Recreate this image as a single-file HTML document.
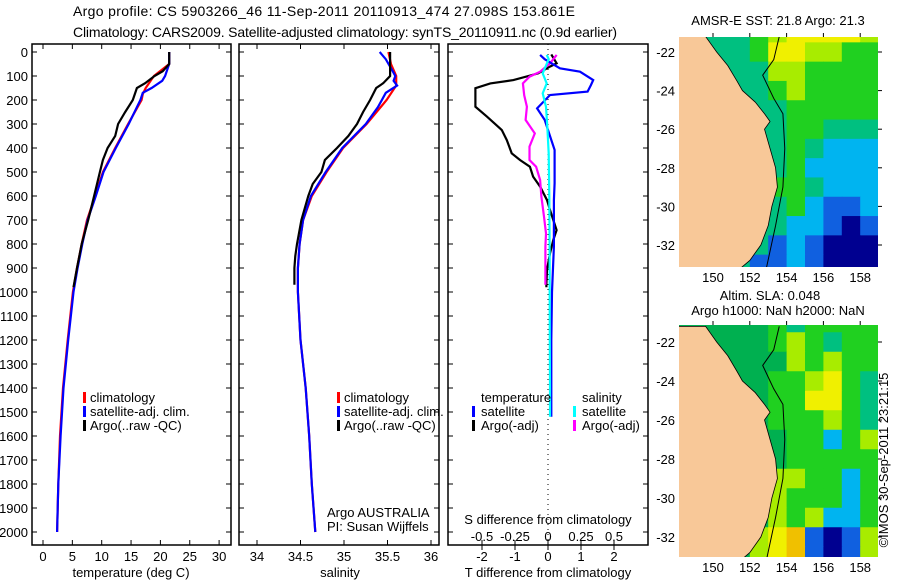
<!DOCTYPE html>
<html><head><meta charset="utf-8"><style>
body{margin:0;background:#fff;}
svg{display:block;font-family:"Liberation Sans",sans-serif;}
</style></head><body>
<svg id="s" width="900" height="580" viewBox="0 0 900 580">
<text x="73" y="16" font-size="14" textLength="502">Argo profile: CS 5903266_46 11-Sep-2011 20110913_474 27.098S 153.861E</text>
<text x="73" y="37" font-size="14" textLength="544">Climatology: CARS2009. Satellite-adjusted climatology: synTS_20110911.nc (0.9d earlier)</text>
<text x="888" y="460" font-size="13" text-anchor="middle" transform="rotate(-90 888 460)">©IMOS 30-Sep-2011 23:21:15</text>
<g id="g"></g>
</svg>
<script>
// ---- Data ----
const depths=[0,50,100,150,175,200,300,400,500,600,700,800,900,1000,1200,1400,1600,1800,2000];
const tempClim=[21.5,21.5,18.9,17.5,17,16.8,14.5,12.3,10.2,8.9,7.5,6.6,5.8,5.1,4.2,3.4,2.9,2.6,2.4];
const tempSatDepths=[0,50,100,120,150,170,200,300,400,500,600,700,800,900,1000,1200,1400,1600,1800,2000];
const tempSat=[21.5,21.5,20.8,20.3,18.5,17,16.6,14.6,12.4,10.3,9,7.6,6.7,5.9,5.2,4.3,3.5,3.0,2.6,2.4];
const argoDepths=[0,50,80,100,130,150,200,250,300,350,400,450,500,550,600,700,800,900,980];
const tempArgo=[21.5,21.5,20.4,19,17.4,16,15.3,14,12.8,12.3,11,10.2,9.7,9.2,8.7,7.7,6.6,5.8,5.2];
const salDepths=[0,50,100,140,200,300,400,500,600,700,800,900,1000,1200,1400,1600,1800,2000];
const salClim=[35.51,35.54,35.6,35.6,35.49,35.26,34.99,34.8,34.63,34.53,34.49,34.47,34.47,34.5,34.56,34.6,34.63,34.67];
const salSatDepths=[0,30,80,100,120,140,170,230,300,400,500,600,700,800,900,1000,1200,1400,1600,1800,2000];
const salSat=[35.41,35.48,35.56,35.59,35.57,35.61,35.48,35.39,35.25,34.98,34.79,34.62,34.53,34.49,34.47,34.47,34.5,34.56,34.6,34.63,34.67];
const salArgoDepths=[0,50,100,130,150,200,250,300,350,400,450,500,550,600,700,800,850,900,970];
const salArgo=[35.53,35.53,35.53,35.45,35.37,35.3,35.22,35.15,35.05,34.92,34.78,34.74,34.64,34.59,34.51,34.46,34.44,34.43,34.43];
const dTArgoDepths=[10,47,61,89,117,131,151,200,228,269,325,367,422,450,478,519,561,617,658,742,783,839,908,964,980];
const dTArgo=[0.1,0.26,0.06,-0.3,-1.05,-1.75,-2.2,-2.2,-2.2,-1.85,-1.4,-1.25,-1.1,-0.85,-0.55,-0.45,-0.24,-0.03,0.06,0.26,0.16,0.06,-0.03,-0.05,-0.05];
const dTSatDepths=[12,30,68,82,117,138,165,179,235,283,325,408,464,547,617,700,811,1000,1200,1400,1520];
const dTSat=[-0.24,-0.1,0.36,0.97,1.37,1.3,1.2,0.06,-0.33,-0.1,0,0.2,0.2,0.2,0.18,0.18,0.18,0.12,0.1,0.1,0.1];
const dSArgoDepths=[12,47,82,103,131,180,228,283,339,394,450,478,533,603,686,756,811,970];
const dSArgo=[0.066,0.015,-0.06,-0.14,-0.19,-0.18,-0.16,-0.17,-0.1,-0.14,-0.14,-0.09,-0.06,-0.05,-0.03,-0.015,-0.02,-0.02];
const dSSatDepths=[12,30,89,131,172,228,311,422,600,800,1000,1200,1400,1520];
const dSSat=[-0.01,0.005,-0.04,-0.01,-0.04,-0.015,-0.005,0.005,0.01,0.012,0.013,0.014,0.015,0.015];
const depthTicks=[0,100,200,300,400,500,600,700,800,900,1000,1100,1200,1300,1400,1500,1600,1700,1800,1900,2000];
const tempTicks=[0,5,10,15,20,25,30];
const salTicks=[34,34.5,35,35.5,36];
const tdTicks=[-2,-1,0,1,2];
const sdTicks=[-0.5,-0.25,0,0.25,0.5];
const sdTickLabels=["-0.5","-0.25","0","0.25","0.5"];
const sstGrid=["TTTTGLYYYYLG","TTTTGYYLLGGG","TTTTTLLGGGGG","TTTTTGLGGGGG","TTTTTTGGGGGT","TTTTTTGGTTTT","TTTTTTGTCCCT","TTTTTTGCCCCC","TTTTTGGTCCCC","TTTTTTGCBBCC","TTTTTTCCBNBC","TTTTTBCBNNNB","TTTTBBCBNNNB"];
const slaGrid=["DDDDDGTGGGGG","DDDDDGLGTGGG","DDDDDDLGLGGG","DDDDDGGLYGTG","DDDDDGGYYGTG","DDDDDGGGLGTG","DDDDDDGGCGLG","DDDDDDGGGGGG","DDDDDLLGGCGG","DDDDDLGGGCGG","DDDDDLGLCCGG","DDDDLYOBNBLG","DDDDLYOBNBLG"];
const coast=[[148,-21.2],[149.6,-21.2],[150.2,-22],[150.8,-22.7],[151.3,-23.5],[151.6,-24],[152.3,-24.6],[152.8,-25.2],[153.1,-25.6],[152.8,-26],[153.1,-27],[153.4,-28],[153.5,-29],[153.2,-30],[153.0,-31],[152.6,-32],[152.0,-32.8],[151.5,-33.2],[148,-33.2]];
const contour=[[153.6,-21.2],[153.3,-22.4],[152.7,-23.2],[153.3,-24.4],[153.8,-25.2],[153.9,-27],[153.8,-29],[153.4,-31],[152.9,-33.2]];
const mapLonTicks=[150,152,154,156,158];
const mapLatTicks=[-22,-24,-26,-28,-30,-32];

const NS="http://www.w3.org/2000/svg";
const G=document.getElementById('g');
function mk(t,a,txt){const e=document.createElementNS(NS,t);for(const k in a)e.setAttribute(k,a[k]);if(txt!==undefined)e.textContent=txt;G.appendChild(e);return e;}
const yD=d=>52+d*0.24;
const topY=52-8, botY=545;
const xT=v=>43+v*5.87, xS=v=>257+(v-34)*87, xTD=v=>548+v*33, xSD=v=>548+v*132;

function frame(x0,x1,name){
  const r=mk('rect',{x:x0,y:topY,width:x1-x0,height:botY-topY,fill:'none',stroke:'#000','stroke-width':1.5});
  
  
  depthTicks.forEach(d=>{const y=yD(d);
    const t1=mk('line',{x1:x0,x2:x0+5,y1:y,y2:y,stroke:'#000'});
    
    const t2=mk('line',{x1:x1-5,x2:x1,y1:y,y2:y,stroke:'#000'});
    });
}
function xticks(vals,fx,labs,ly,name){
  vals.forEach((v,i)=>{const x=fx(v);
    const a=mk('line',{x1:x,x2:x,y1:topY,y2:topY+5,stroke:'#000'});
    
    const b=mk('line',{x1:x,x2:x,y1:botY-5,y2:botY,stroke:'#000'});
    
    const t=mk('text',{x:x,y:ly,'font-size':13,'text-anchor':'middle'},labs?labs[i]:String(v));
    });
}
function line(ds,vs,fx,col,name){
  const p=ds.map((d,i)=>fx(vs[i]).toFixed(1)+','+yD(d).toFixed(1)).join(' ');
  const e=mk('polyline',{points:p,fill:'none',stroke:col,'stroke-width':2.2});
  
}
function txt(x,y,s,name,anchor,size){const t=mk('text',{x:x,y:y,'font-size':size||13,'text-anchor':anchor||'start'},s);
  return t;}
function mark(x,y,col,name){const r=mk('rect',{x:x,y:y-11,width:3,height:11,fill:col});
  }

// Panel 1
frame(32,231,'temperature-panel');
depthTicks.forEach(d=>txt(28,yD(d)+5,String(d),'depth-label','end'));
xticks(tempTicks,xT,null,561,'temperature-x');
txt(131,577,'temperature (deg C)','temperature-axis-title','middle');
line(depths,tempClim,xT,'#f00','temp-climatology-line');
line(tempSatDepths,tempSat,xT,'#00f','temp-satellite-line');
line(argoDepths,tempArgo,xT,'#000','temp-argo-line');
[['climatology','#f00'],['satellite-adj. clim.','#00f'],['Argo(..raw -QC)','#000']].forEach((l,i)=>{
  mark(83,403+i*14,l[1],'legend-marker');txt(90,402+i*14,l[0],'legend-entry');});

// Panel 2
frame(239,439,'salinity-panel');
xticks(salTicks,xS,["34","34.5","35","35.5","36"],561,'salinity-x');
txt(340,577,'salinity','salinity-axis-title','middle');
line(salDepths,salClim,xS,'#f00','sal-climatology-line');
line(salSatDepths,salSat,xS,'#00f','sal-satellite-line');
line(salArgoDepths,salArgo,xS,'#000','sal-argo-line');
[['climatology','#f00'],['satellite-adj. clim.','#00f'],['Argo(..raw -QC)','#000']].forEach((l,i)=>{
  mark(337,403+i*14,l[1],'legend-marker');txt(344,402+i*14,l[0],'legend-entry');});
txt(327,517,'Argo AUSTRALIA','argo-australia-label');
txt(327,531,'PI: Susan Wijffels','pi-label');

// Panel 3
frame(448,648,'difference-panel');
const dz=mk('line',{x1:548,x2:548,y1:topY,y2:botY,stroke:'#000','stroke-dasharray':'1,4'});

tdTicks.forEach(v=>{const x=xTD(v);
  const a=mk('line',{x1:x,x2:x,y1:botY,y2:botY+5,stroke:'#000'});
  
  txt(x,561,String(v),'t-diff-label','middle');});
sdTicks.forEach((v,i)=>{const x=xSD(v);
  const a=mk('line',{x1:x,x2:x,y1:botY-5,y2:botY,stroke:'#000'});
  
  txt(x,541,sdTickLabels[i],'s-diff-label','middle');});
txt(548,524,'S difference from climatology','s-diff-axis-title','middle');
txt(548,577,'T difference from climatology','t-diff-axis-title','middle');
line(dTArgoDepths,dTArgo,xTD,'#000','t-diff-argo-line');
line(dSArgoDepths,dSArgo,xSD,'#f0f','s-diff-argo-line');
line(dTSatDepths,dTSat,xTD,'#00f','t-diff-satellite-line');
line(dSSatDepths,dSSat,xSD,'#0ff','s-diff-satellite-line');
txt(481,402,'temperature','legend-temperature-header');
txt(582,402,'salinity','legend-salinity-header');
mark(472,417,'#00f','legend-marker');txt(481,416,'satellite','legend-entry');
mark(472,431,'#000','legend-marker');txt(481,430,'Argo(-adj)','legend-entry');
mark(573,417,'#0ff','legend-marker');txt(582,416,'satellite','legend-entry');
mark(573,431,'#f0f','legend-marker');txt(582,430,'Argo(-adj)','legend-entry');

// Maps
const COL={T:'#00c080',G:'#20d020',L:'#a8ec00',Y:'#f0f000',O:'#f0c000',C:'#00b4f0',B:'#1060e0',N:'#000090',D:'#00b050'};
function drawMap(grid,y0,y1,latA,yA,pxLat,name){
  const x0=679,x1=878;
  const fx=l=>713+(l-150)*18.4, fy=l=>yA+(latA-l)*pxLat;
  const g=document.createElementNS(NS,'g');
  
  const cp=document.createElementNS(NS,'clipPath');cp.setAttribute('id','c'+name);
  const cr=document.createElementNS(NS,'rect');cr.setAttribute('x',x0);cr.setAttribute('y',y0);cr.setAttribute('width',x1-x0);cr.setAttribute('height',y1-y0);
  cp.appendChild(cr);G.appendChild(cp);
  g.setAttribute('clip-path','url(#c'+name+')');G.appendChild(g);
  grid.forEach((row,r)=>{[...row].forEach((c,k)=>{
    const e=document.createElementNS(NS,'rect');
    e.setAttribute('x',fx(148+k));e.setAttribute('y',fy(-20.5-r));
    e.setAttribute('width',18.9);e.setAttribute('height',pxLat+0.5);e.setAttribute('fill',COL[c]);
    
    
    g.appendChild(e);});});
  const land=document.createElementNS(NS,'polygon');
  land.setAttribute('points',coast.map(p=>fx(p[0])+','+fy(p[1])).join(' '));
  land.setAttribute('fill','#f8c898');land.setAttribute('stroke','#000');land.setAttribute('stroke-width',0.8);
  
  
  g.appendChild(land);
  const ct=document.createElementNS(NS,'polyline');
  ct.setAttribute('points',contour.map(p=>fx(p[0])+','+fy(p[1])).join(' '));
  ct.setAttribute('fill','none');ct.setAttribute('stroke','#000');ct.setAttribute('stroke-width',1);
  
  
  g.appendChild(ct);
  mapLatTicks.forEach(l=>{const y=fy(l);txt(675,y+5,String(l),'map-lat-label','end');
    const t=mk('line',{x1:x1,x2:x1+4,y1:y,y2:y,stroke:'#000'});});
  mapLonTicks.forEach(l=>{const x=fx(l);txt(x,y1+15,String(l),'map-lon-label','middle');
    const t=mk('line',{x1:x,x2:x,y1:y0-4,y2:y0,stroke:'#000'});});
}
drawMap(sstGrid,37,267,-22,52,19.3,'sst-map');
drawMap(slaGrid,325,557,-22,342,19.5,'sla-map');
txt(778,25,'AMSR-E SST: 21.8 Argo: 21.3','sst-map-title','middle');
txt(770,300,'Altim. SLA: 0.048','sla-map-title','middle');
txt(778,315,'Argo h1000: NaN h2000: NaN','argo-height-label','middle');
</script>
</body></html>
